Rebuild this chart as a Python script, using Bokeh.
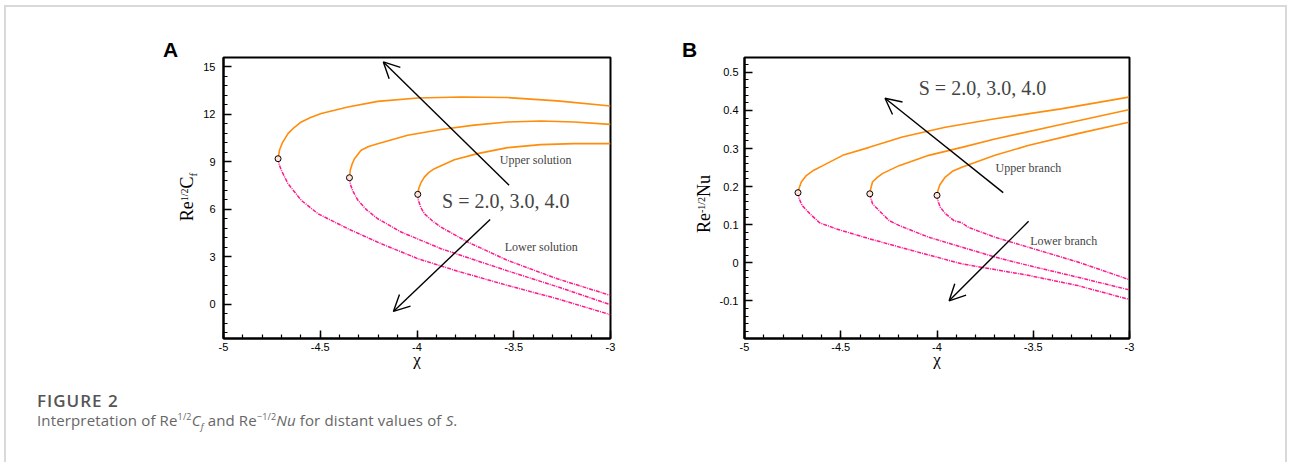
from bokeh.plotting import figure
from bokeh.models import (Range1d, FixedTicker, Label, Arrow, OpenHead, Div)
from bokeh.layouts import row, column
from bokeh.embed import file_html
from bokeh.resources import INLINE

# ---------------- data ----------------
S_values = ["2.0", "3.0", "4.0"]

# Panel A: Re^{1/2} C_f vs chi
a_up_x_s2 = [-4.718, -4.710, -4.695, -4.667, -4.635, -4.598, -4.550, -4.495, -4.357, -4.203, -3.996, -3.773, -3.532, -3.275, -3.0]
a_up_y_s2 = [9.18, 9.75, 10.20, 10.76, 11.15, 11.50, 11.78, 12.03, 12.44, 12.80, 13.01, 13.08, 13.04, 12.83, 12.51]
a_up_x_s3 = [-4.349, -4.345, -4.335, -4.323, -4.289, -4.250, -4.203, -4.048, -3.876, -3.705, -3.532, -3.361, -3.189, -3.0]
a_up_y_s3 = [7.98, 8.45, 8.85, 9.18, 9.71, 9.95, 10.13, 10.66, 11.02, 11.30, 11.50, 11.56, 11.50, 11.35]
a_up_x_s4 = [-3.996, -3.991, -3.980, -3.962, -3.940, -3.910, -3.807, -3.687, -3.532, -3.361, -3.189, -3.0]
a_up_y_s4 = [6.93, 7.30, 7.65, 8.02, 8.30, 8.55, 9.12, 9.50, 9.88, 10.07, 10.13, 10.13]

a_lo_x_s2 = [-4.718, -4.712, -4.701, -4.667, -4.598, -4.512, -4.357, -4.186, -3.996, -3.790, -3.532, -3.275, -3.0]
a_lo_y_s2 = [9.18, 8.80, 8.45, 7.61, 6.55, 5.71, 4.76, 3.82, 2.87, 2.08, 1.18, 0.34, -0.67]
a_lo_x_s3 = [-4.349, -4.344, -4.330, -4.305, -4.260, -4.203, -4.082, -3.876, -3.705, -3.532, -3.275, -3.0]
a_lo_y_s3 = [7.98, 7.55, 7.10, 6.55, 5.95, 5.39, 4.55, 3.50, 2.80, 2.10, 1.10, -0.04]
a_lo_x_s4 = [-3.996, -3.993, -3.980, -3.962, -3.920, -3.876, -3.738, -3.532, -3.275, -3.0]
a_lo_y_s4 = [6.93, 6.55, 6.10, 5.71, 5.25, 4.86, 3.92, 2.76, 1.60, 0.55]

a_turn_x = [-4.718, -4.349, -3.996]
a_turn_y = [9.18, 7.98, 6.93]

# Panel B: Re^{-1/2} Nu vs chi
b_up_x_s2 = [-4.722, -4.716, -4.705, -4.679, -4.640, -4.593, -4.490, -4.352, -4.180, -3.957, -3.699, -3.356, -3.004]
b_up_y_s2 = [0.184, 0.196, 0.212, 0.229, 0.243, 0.255, 0.282, 0.303, 0.330, 0.356, 0.378, 0.404, 0.435]
b_up_x_s3 = [-4.349, -4.344, -4.335, -4.310, -4.284, -4.197, -4.043, -3.871, -3.699, -3.356, -3.004]
b_up_y_s3 = [0.181, 0.195, 0.212, 0.224, 0.234, 0.255, 0.282, 0.303, 0.325, 0.363, 0.402]
b_up_x_s4 = [-4.000, -3.995, -3.985, -3.957, -3.920, -3.871, -3.699, -3.527, -3.269, -3.004]
b_up_y_s4 = [0.177, 0.190, 0.205, 0.225, 0.240, 0.251, 0.282, 0.308, 0.339, 0.369]

b_lo_x_s2 = [-4.722, -4.716, -4.700, -4.661, -4.610, -4.524, -4.352, -4.129, -3.871, -3.527, -3.269, -3.004]
b_lo_y_s2 = [0.184, 0.168, 0.150, 0.129, 0.105, 0.089, 0.063, 0.032, -0.003, -0.033, -0.060, -0.096]
b_lo_x_s3 = [-4.349, -4.343, -4.335, -4.301, -4.249, -4.198, -4.043, -3.871, -3.699, -3.527, -3.269, -3.004]
b_lo_y_s3 = [0.181, 0.168, 0.155, 0.137, 0.111, 0.098, 0.067, 0.041, 0.015, -0.007, -0.038, -0.071]
b_lo_x_s4 = [-4.000, -3.996, -3.983, -3.957, -3.910, -3.871, -3.837, -3.699, -3.527, -3.269, -3.004]
b_lo_y_s4 = [0.177, 0.164, 0.146, 0.129, 0.110, 0.105, 0.093, 0.067, 0.041, 0.002, -0.044]

b_turn_x = [-4.722, -4.349, -4.000]
b_turn_y = [0.184, 0.181, 0.177]

# ticks
x_ticks = [-5, -4.5, -4, -3.5, -3]
x_tick_labels = ["-5", "-4.5", "-4", "-3.5", "-3"]
a_y_ticks = [0, 3, 6, 9, 12, 15]
a_y_tick_labels = ["0", "3", "6", "9", "12", "15"]
b_y_ticks = [-0.1, 0, 0.1, 0.2, 0.3, 0.4, 0.5]
b_y_tick_labels = ["-0.1", "0", "0.1", "0.2", "0.3", "0.4", "0.5"]

ORANGE = "#ff8c0a"
PINK = "#ff1a8c"
SERIF = "Liberation Serif"
SANS = "Liberation Sans"
DASH = "4 1 1 1"
BORDER = "#d9d9d9"
FIG_H = 375


def make_fig(width, y_range, border_left, border_right, y_ticks, y_labels, y_minor, ylab_standoff):
    p = figure(width=width, height=FIG_H, x_range=Range1d(-5, -3), y_range=y_range,
               output_backend="svg", toolbar_location=None,
               min_border_left=border_left, min_border_right=border_right,
               min_border_top=50, min_border_bottom=44)
    p.grid.visible = False
    p.outline_line_color = "black"
    p.outline_line_width = 2
    p.background_fill_color = "white"
    p.border_fill_color = "white"
    x_minor = [round(-5 + 0.1 * i, 3) for i in range(21)]
    p.xaxis.ticker = FixedTicker(ticks=x_ticks, minor_ticks=x_minor)
    p.xaxis.major_label_overrides = {t: l for t, l in zip(x_ticks, x_tick_labels)}
    p.yaxis.ticker = FixedTicker(ticks=y_ticks, minor_ticks=y_minor)
    p.yaxis.major_label_overrides = {t: l for t, l in zip(y_ticks, y_labels)}
    for ax in (p.xaxis[0], p.yaxis[0]):
        ax.axis_line_width = 2
        ax.axis_line_color = "black"
        ax.major_tick_in = 8
        ax.major_tick_out = 0
        ax.minor_tick_in = 4
        ax.minor_tick_out = 0
        ax.major_tick_line_width = 1.5
        ax.minor_tick_line_width = 1.2
        ax.major_label_text_font = SANS
        ax.major_label_text_font_size = "11px"
        ax.major_label_text_color = "black"
    p.xaxis.major_label_standoff = 4
    p.yaxis.major_label_standoff = ylab_standoff
    p.xaxis.axis_label = "χ"
    p.xaxis.axis_label_text_font = SERIF
    p.xaxis.axis_label_text_font_style = "normal"
    p.xaxis.axis_label_text_font_size = "17px"
    p.xaxis.axis_label_text_color = "black"
    p.xaxis.axis_label_standoff = -4
    return p


def side_div(width, letter, letter_left, label_html, cx, cy):
    html = (
        f"<div style=\"position:relative;width:{width}px;height:{FIG_H}px;\">"
        f"<div style=\"position:absolute;left:{letter_left}px;top:32px;font-family:'{SANS}';"
        f"font-weight:bold;font-size:21px;line-height:21px;color:black;\">{letter}</div>"
        f"<div style=\"position:absolute;left:{cx}px;top:{cy}px;font-family:'{SERIF}';"
        f"font-size:18px;line-height:18px;color:black;white-space:nowrap;"
        f"transform:translate(-50%,-50%) rotate(-90deg);\">{label_html}</div>"
        "</div>")
    return Div(width=width, height=FIG_H, text=html, margin=(0, 0, 0, 0))


SUP = "<span style=\"position:relative;top:-0.5em;font-size:10px;\">{}</span>"
SUB = "<span style=\"position:relative;top:0.4em;font-size:11px;\">{}</span>"

# ---------------- Panel A ----------------
a_yr = Range1d(-2.17, 15.57)
a_minor = [round(-1.8 + 0.6 * i, 3) for i in range(29)]
pa = make_fig(460, a_yr, 22, 50, a_y_ticks, a_y_tick_labels, a_minor, 8)

for ux, uy in [(a_up_x_s2, a_up_y_s2), (a_up_x_s3, a_up_y_s3), (a_up_x_s4, a_up_y_s4)]:
    pa.line(ux, uy, line_color=ORANGE, line_width=1.6)
for lx, ly in [(a_lo_x_s2, a_lo_y_s2), (a_lo_x_s3, a_lo_y_s3), (a_lo_x_s4, a_lo_y_s4)]:
    pa.line(lx, ly, line_color=PINK, line_width=1.5, line_dash=DASH)
pa.scatter(a_turn_x, a_turn_y, size=6, marker="circle", line_color="black",
           line_width=1, fill_color="#ffe4d8")

pa.add_layout(Arrow(end=OpenHead(size=16, line_width=1.4, line_color="black"),
                    x_start=-3.524, y_start=7.50, x_end=-4.174, y_end=15.29,
                    line_width=1.4, line_color="black"))
pa.add_layout(Arrow(end=OpenHead(size=16, line_width=1.4, line_color="black"),
                    x_start=-3.622, y_start=5.35, x_end=-4.122, y_end=-0.46,
                    line_width=1.4, line_color="black"))

pa.add_layout(Label(x=-3.387, y=9.08, text="Upper solution", text_font=SERIF,
                    text_font_size="12px", text_align="center", text_baseline="middle"))
pa.add_layout(Label(x=-3.541, y=6.5, text="S = 2.0, 3.0, 4.0", text_font=SERIF,
                    text_font_size="20px", text_align="center", text_baseline="middle"))
pa.add_layout(Label(x=-3.358, y=3.6, text="Lower solution", text_font=SERIF,
                    text_font_size="12px", text_align="center", text_baseline="middle"))

div_a = side_div(194, "A", 157, "Re" + SUP.format("1/2") + "C" + SUB.format("f"), 182, 190)

# ---------------- Panel B ----------------
b_yr = Range1d(-0.199, 0.539)
b_minor = [round(-0.18 + 0.02 * i, 3) for i in range(36)]
pb = make_fig(569, b_yr, 25, 156, b_y_ticks, b_y_tick_labels, b_minor, 6)

for ux, uy in [(b_up_x_s2, b_up_y_s2), (b_up_x_s3, b_up_y_s3), (b_up_x_s4, b_up_y_s4)]:
    pb.line(ux, uy, line_color=ORANGE, line_width=1.6)
for lx, ly in [(b_lo_x_s2, b_lo_y_s2), (b_lo_x_s3, b_lo_y_s3), (b_lo_x_s4, b_lo_y_s4)]:
    pb.line(lx, ly, line_color=PINK, line_width=1.5, line_dash=DASH)
pb.scatter(b_turn_x, b_turn_y, size=6, marker="circle", line_color="black",
           line_width=1, fill_color="#ffe4d8")

pb.add_layout(Arrow(end=OpenHead(size=16, line_width=1.4, line_color="black"),
                    x_start=-3.656, y_start=0.184, x_end=-4.270, y_end=0.432,
                    line_width=1.4, line_color="black"))
pb.add_layout(Arrow(end=OpenHead(size=16, line_width=1.4, line_color="black"),
                    x_start=-3.524, y_start=0.109, x_end=-3.937, y_end=-0.100,
                    line_width=1.4, line_color="black"))

pb.add_layout(Label(x=-3.764, y=0.459, text="S = 2.0, 3.0, 4.0", text_font=SERIF,
                    text_font_size="20px", text_align="center", text_baseline="middle"))
pb.add_layout(Label(x=-3.525, y=0.249, text="Upper branch", text_font=SERIF,
                    text_font_size="12px", text_align="center", text_baseline="middle"))
pb.add_layout(Label(x=-3.342, y=0.058, text="Lower branch", text_font=SERIF,
                    text_font_size="12px", text_align="center", text_baseline="middle"))

div_b = side_div(56, "B", 22, "Re" + SUP.format("-1/2") + "Nu", 45, 197)

caption = Div(width=1279, height=80, margin=(0, 0, 0, 0), text=(
    "<div style=\"font-family:'Open Sans',sans-serif;padding:8px 0 0 31px;\">"
    "<div style=\"font-size:17px;font-weight:600;color:#555;line-height:21px;letter-spacing:1px;\">FIGURE 2</div>"
    "<div style=\"font-size:15px;color:#666;line-height:19px;letter-spacing:0.15px;\">Interpretation of "
    "Re<sup style=\"font-size:9px;line-height:0\">1/2</sup><i>C<sub style=\"font-size:9px;line-height:0\">f</sub></i> and "
    "Re<sup style=\"font-size:9px;line-height:0\">\u22121/2</sup><i>Nu</i> for distant values of <i>S</i>.</div>"
    "</div>"))

top_bar = Div(width=1283, height=2, text="", margin=(5, 0, 0, 4),
              styles={"background-color": BORDER})
left_bar = Div(width=2, height=455, text="", margin=(0, 0, 0, 4),
               styles={"background-color": BORDER})
right_bar = Div(width=2, height=455, text="", margin=(0, 0, 0, 0),
                styles={"background-color": BORDER})

inner = column(row(div_a, pa, div_b, pb), caption)
layout = column(top_bar, row(left_bar, inner, right_bar))

open("out.html", "w").write(file_html(layout, INLINE))
